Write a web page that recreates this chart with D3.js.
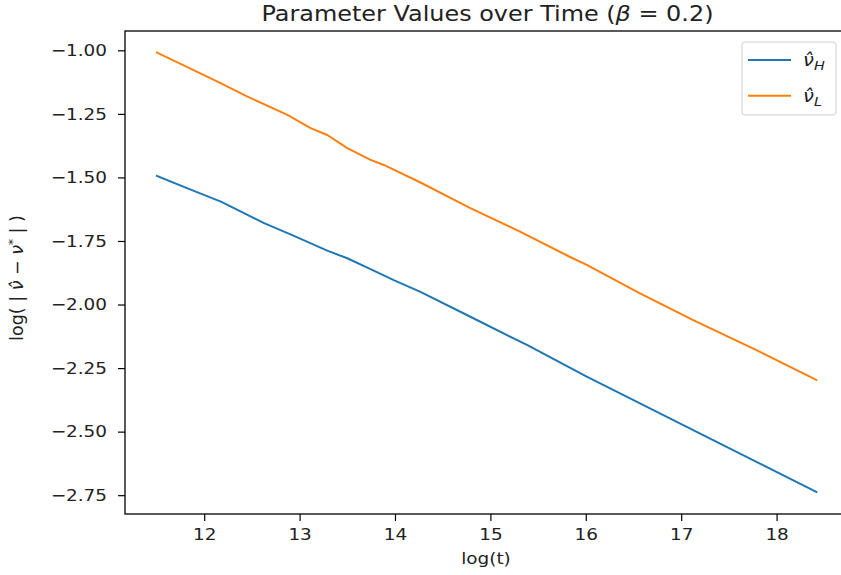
<!DOCTYPE html>
<html>
<head>
<meta charset="utf-8">
<script src="https://cdn.jsdelivr.net/npm/d3@7"></script>
<style>
  html, body { margin: 0; padding: 0; background: #fff; }
  svg { display: block; font-family: "DejaVu Sans", sans-serif; }
</style>
</head>
<body>
<svg id="chart" width="841" height="575"></svg>
<script>
// ---- data ----
const logT_H = [11.505, 11.826, 12.175, 12.349, 12.628, 12.941, 13.29, 13.5, 13.744, 13.987, 14.267, 14.79, 15.383, 16.01, 16.568, 17.126, 17.789, 18.417];
const nuH    = [-1.494, -1.543, -1.595, -1.628, -1.680, -1.730, -1.788, -1.818, -1.861, -1.904, -1.950, -2.048, -2.159, -2.284, -2.389, -2.494, -2.619, -2.737];
const logT_L = [11.505, 12.14, 12.454, 12.872, 13.116, 13.29, 13.5, 13.744, 13.883, 14.267, 14.79, 15.31, 15.83, 16.01, 16.568, 17.126, 17.789, 18.417];
const nuL    = [-1.009, -1.123, -1.182, -1.254, -1.306, -1.333, -1.385, -1.431, -1.451, -1.520, -1.621, -1.713, -1.812, -1.844, -1.956, -2.061, -2.179, -2.297];
const xTicks = [12, 13, 14, 15, 16, 17, 18];
const yTicks = [-1.00, -1.25, -1.50, -1.75, -2.00, -2.25, -2.50, -2.75];
const seriesNames = ["H", "L"];
const seriesColors = ["#1f77b4", "#ff7f0e"];

const SX = 1.15; // horizontal text stretch seen in the reference

const svg = d3.select("#chart");
svg.append("rect").attr("width", 841).attr("height", 575).attr("fill", "#fff");

const plot = { left: 125, right: 851, top: 31, bottom: 514 };
const x = d3.scaleLinear().domain([11.17, 18.78]).range([plot.left, plot.right]);
const y = d3.scaleLinear().domain([-2.824, -0.924]).range([plot.bottom, plot.top]);

const fs = 16;

function stretch(sel, ax, ay) {
  sel.attr("transform", `translate(${ax},${ay}) scale(${SX},1) translate(${-ax},${-ay})`);
}

// lines
const series = [
  { name: "H", xs: logT_H, ys: nuH, color: seriesColors[0] },
  { name: "L", xs: logT_L, ys: nuL, color: seriesColors[1] }
];
const line = d3.line().x(d => x(d[0])).y(d => y(d[1]));
series.forEach(s => {
  const pts = s.xs.map((v, i) => [v, s.ys[i]]);
  svg.append("path").datum(pts)
    .attr("d", line)
    .attr("fill", "none")
    .attr("stroke", s.color)
    .attr("stroke-width", 2)
    .attr("stroke-linejoin", "round")
    .attr("stroke-linecap", "square");
});

// axes
const xAxis = d3.axisBottom(x).tickValues(xTicks).tickSize(7).tickPadding(8).tickFormat(d3.format("d"));
const yAxis = d3.axisLeft(y).tickValues(yTicks).tickSize(7).tickPadding(11)
  .tickFormat(d => d3.format(".2f")(d).replace("-", "\u2212"));

const gx = svg.append("g").attr("transform", `translate(0,${plot.bottom})`).call(xAxis);
const gy = svg.append("g").attr("transform", `translate(${plot.left},0)`).call(yAxis);
[gx, gy].forEach(g => {
  g.select(".domain").remove();
  g.selectAll(".tick line").attr("stroke", "#000").attr("stroke-width", 1.2);
  g.selectAll(".tick text").attr("fill", "#222").style("font-size", fs + "px")
    .style("font-family", "DejaVu Sans");
});
gx.selectAll(".tick text").each(function () { stretch(d3.select(this), 0, 0); });
gy.selectAll(".tick text").each(function () { stretch(d3.select(this), -18, 0); });

// spines
svg.append("rect")
  .attr("x", plot.left).attr("y", plot.top)
  .attr("width", plot.right - plot.left).attr("height", plot.bottom - plot.top)
  .attr("fill", "none").attr("stroke", "#000").attr("stroke-width", 1.3);

// title
const tcx = 487.5;
const title = svg.append("text")
  .attr("x", tcx).attr("y", 21)
  .attr("text-anchor", "middle")
  .attr("fill", "#222")
  .style("font-size", "20.8px");
title.append("tspan").text("Parameter Values over Time (");
title.append("tspan").style("font-style", "italic").text("\u03B2");
title.append("tspan").text(" = 0.2)");
stretch(title, tcx, 21);

// x label
const xl = svg.append("text")
  .attr("x", 486).attr("y", 564)
  .attr("text-anchor", "middle").attr("fill", "#222")
  .style("font-size", fs + "px")
  .text("log(t)");
stretch(xl, 486, 564);

// y label
const yl = svg.append("text")
  .attr("transform", `translate(23,278) rotate(-90)`)
  .attr("text-anchor", "middle").attr("fill", "#222")
  .style("font-size", "17.5px");
yl.append("tspan").text("log( | ");
yl.append("tspan").style("font-style", "italic").text("\u03BD\u0302");
yl.append("tspan").text(" \u2212 ");
yl.append("tspan").style("font-style", "italic").text("\u03BD");
yl.append("tspan").attr("dy", -6).style("font-size", "12px").text("*");
yl.append("tspan").attr("dy", 6).text(" | )");

// legend
const lg = svg.append("g");
lg.append("rect")
  .attr("x", 742).attr("y", 42).attr("width", 94).attr("height", 73)
  .attr("rx", 3).attr("fill", "#fff").attr("fill-opacity", 0.8)
  .attr("stroke", "#d0d0d0").attr("stroke-width", 1);
seriesNames.forEach((n, i) => {
  const ly = 60 + i * 35.7;
  lg.append("line").attr("x1", 748).attr("x2", 791).attr("y1", ly).attr("y2", ly)
    .attr("stroke", seriesColors[i]).attr("stroke-width", 2);
  const t = lg.append("text").attr("x", 803).attr("y", ly + 6)
    .attr("fill", "#222").style("font-size", "17px").style("font-style", "italic");
  t.append("tspan").text("\u03BD\u0302");
  t.append("tspan").attr("dy", 4).style("font-size", "12.5px").text(n);
  stretch(t, 803, ly + 6);
});
</script>
</body>
</html>
